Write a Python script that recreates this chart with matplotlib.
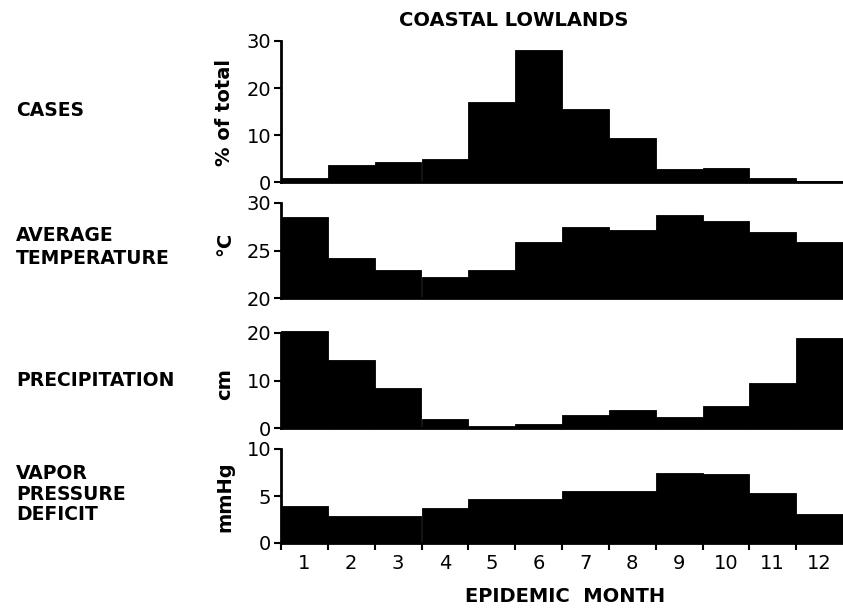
import numpy as np
import matplotlib.pyplot as plt

months = np.arange(1, 13)
month_labels = [str(m) for m in months]

cases = [0.9, 3.6, 4.3, 5.0, 17.0, 28.0, 15.6, 9.3, 2.7, 2.9, 0.8, 0.3]
temperature = [28.5, 24.2, 22.9, 22.2, 23.0, 25.9, 27.5, 27.2, 28.7, 28.1, 27.0, 25.9]
precipitation = [20.5, 14.4, 8.4, 2.0, 0.35, 0.9, 2.8, 3.7, 2.3, 4.6, 9.5, 18.9]
vapor_deficit = [3.9, 2.9, 2.9, 3.75, 4.7, 4.65, 5.5, 5.5, 7.4, 7.3, 5.3, 3.1]

W, H = 843, 609
fig = plt.figure(figsize=(W / 100, H / 100), dpi=100)

left = 281 / W
# (bottom px, top px, ylim, yticks, data, ylabel, ylabel centre px, side label, side centre px, linespacing)
panels = [
    (182, 41, (0, 30), [0, 10, 20, 30], cases, '% of total', 112, 'CASES', 110, 1.2),
    (298, 203, (20, 30), [20, 25, 30], temperature, '°C', 244, 'AVERAGE\nTEMPERATURE', 247, 1.3),
    (428, 333, (0, 20), [0, 10, 20], precipitation, 'cm', 384, 'PRECIPITATION', 380, 1.2),
    (543, 449, (0, 10), [0, 5, 10], vapor_deficit, 'mmHg', 497, 'VAPOR\nPRESSURE\nDEFICIT', 494, 1.1),
]

axes = []
for bot, top, ylim, yt, vals, ylab, ylab_y, side, side_y, ls in panels:
    ax = fig.add_axes([left, 1 - bot / H, 1 - left, (bot - top) / H])
    base = ylim[0]
    bars = ax.bar(months, np.array(vals) - base, bottom=base, width=1.0,
                  color='black', edgecolor='black', linewidth=0.6)
    for b in bars:
        b.set_clip_on(False)
    ax.set_xlim(0.5, 12.5)
    ax.set_ylim(*ylim)
    ax.set_yticks(yt)
    ax.tick_params(axis='y', direction='out', length=5, width=1.5, pad=2, labelsize=14)
    ax.tick_params(axis='x', length=0)
    ax.set_xticks([])
    for s in ['top', 'right']:
        ax.spines[s].set_visible(False)
    for s in ['left', 'bottom']:
        ax.spines[s].set_linewidth(2)
    fig.text(225 / W, 1 - ylab_y / H, ylab, rotation=90, ha='center', va='center',
             fontsize=14, fontweight='bold')
    fig.text(16 / W, 1 - side_y / H, side, ha='left', va='center',
             fontsize=13.5, fontweight='bold', linespacing=ls)
    axes.append(ax)

# month axis on the bottom panel
ax = axes[-1]
ax.set_xticks(np.arange(0.5, 12.5, 1.0))
ax.set_xticklabels([])
ax.set_xticks(months, minor=True)
ax.set_xticklabels(month_labels, minor=True)
ax.tick_params(axis='x', which='major', direction='out', length=5, width=1.5)
ax.tick_params(axis='x', which='minor', length=0, pad=8, labelsize=14)

fig.text(514 / W, 1 - 21 / H, 'COASTAL LOWLANDS', ha='center', va='center',
         fontsize=14, fontweight='bold')
fig.text(565 / W, 1 - 597 / H, 'EPIDEMIC  MONTH', ha='center', va='center',
         fontsize=14, fontweight='bold')

fig.savefig('out.png', dpi=100)
